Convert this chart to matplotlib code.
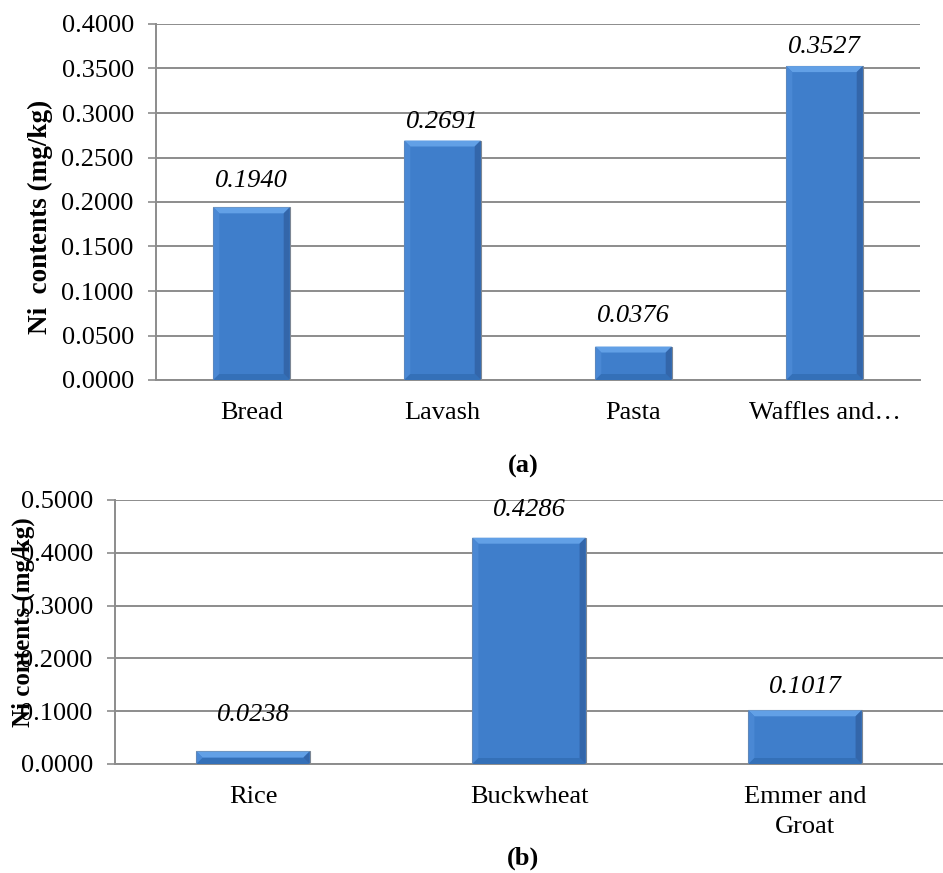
import matplotlib
matplotlib.use('Agg')
import matplotlib.pyplot as plt
from matplotlib.patches import Polygon

# ---------------------------------------------------------------------------
# Data
# ---------------------------------------------------------------------------
bakery_items = ['Bread', 'Lavash', 'Pasta', 'Waffles and…']
bakery_ni = [0.1940, 0.2691, 0.0376, 0.3527]

grain_items = ['Rice', 'Buckwheat', 'Emmer and\nGroat']
grain_ni = [0.0238, 0.4286, 0.1017]

# ---------------------------------------------------------------------------
# Style
# ---------------------------------------------------------------------------
FONT = 'Liberation Serif'
FS = 19
GRID = '#8c8c8c'
FACE = '#3f7ecb'
TOP_C = '#62a0e6'
LEFT_C = '#4a88d4'
RIGHT_C = '#3366aa'
BOT_C = '#3470b8'
EDGE = '#7d8794'

plt.rcParams['font.family'] = [FONT, 'DejaVu Serif']

W, H = 943, 873
fig = plt.figure(figsize=(W / 100, H / 100), dpi=100)


def px_axes(left, top, right, bottom):
    return fig.add_axes([left / W, 1 - bottom / H, (right - left) / W, (bottom - top) / H])


def bevel_bars(ax, bars, bev_px=6):
    bb = ax.get_position()
    x0, x1 = ax.get_xlim()
    y0, y1 = ax.get_ylim()
    dx = bev_px * (x1 - x0) / (bb.width * W)
    dy = bev_px * (y1 - y0) / (bb.height * H)
    for b in bars:
        l, bt = b.get_x(), b.get_y()
        r, t = l + b.get_width(), bt + b.get_height()
        e = min(dy, (t - bt) / 2)
        polys = [
            ([(l, t), (r, t), (r - dx, t - e), (l + dx, t - e)], TOP_C),
            ([(l, bt), (l, t), (l + dx, t - e), (l + dx, bt + e)], LEFT_C),
            ([(r, bt), (r, t), (r - dx, t - e), (r - dx, bt + e)], RIGHT_C),
            ([(l, bt), (r, bt), (r - dx, bt + e), (l + dx, bt + e)], BOT_C),
        ]
        for pts, c in polys:
            ax.add_patch(Polygon(pts, closed=True, facecolor=c, edgecolor='none', zorder=3))


def draw_panel(ax, cats, vals, ymax, ystep, width, offsets):
    xs = range(len(cats))
    bars = ax.bar(xs, vals, width=width, color=FACE, edgecolor=EDGE, linewidth=0.8, zorder=2)
    ax.set_xlim(-0.5, len(cats) - 0.5)
    ax.set_ylim(0, ymax)
    n = int(round(ymax / ystep))
    ax.set_yticks([i * ystep for i in range(n + 1)])
    ax.set_yticklabels([f'{i * ystep:.4f}' for i in range(n + 1)], fontsize=FS)
    ax.set_xticks(list(xs))
    ax.set_xticklabels(cats, fontsize=FS, linespacing=1.45)
    ax.tick_params(axis='x', length=0, pad=16)
    ax.tick_params(axis='y', length=6, width=1.2, color=GRID, pad=10)
    ax.grid(axis='y', color=GRID, linewidth=1.4, zorder=0)
    ax.set_axisbelow(True)
    for s in ['top', 'right']:
        ax.spines[s].set_visible(False)
    for s in ['left', 'bottom']:
        ax.spines[s].set_color(GRID)
        ax.spines[s].set_linewidth(1.4)
    bevel_bars(ax, bars)
    for x, v, off in zip(xs, vals, offsets):
        ax.annotate(f'{v:.4f}', (x, v), xytext=(0, off), textcoords='offset pixels',
                    ha='center', va='center', fontsize=FS, style='italic', zorder=4)


ax1 = px_axes(156, 24, 920, 380)
draw_panel(ax1, bakery_items, bakery_ni, 0.4, 0.05, 0.40, [26, 19, 31, 19])

ax2 = px_axes(115, 500, 943, 764)
draw_panel(ax2, grain_items, grain_ni, 0.5, 0.1, 0.41, [36, 28, 23])

fig.text(40 / W, 1 - 217 / H, 'Ni  contents (mg/kg)', rotation=90, ha='center', va='center',
         fontsize=19.5, fontweight='bold')
fig.text(23 / W, 1 - 622 / H, 'Ni contents (mg/kg)', rotation=90, ha='center', va='center',
         fontsize=18, fontweight='bold')

fig.text(523 / W, 1 - 466 / H, '(a)', ha='center', va='center', fontsize=FS, fontweight='bold')
fig.text(523 / W, 1 - 858 / H, '(b)', ha='center', va='center', fontsize=FS, fontweight='bold')

fig.savefig('out.png', dpi=100, facecolor='white')
